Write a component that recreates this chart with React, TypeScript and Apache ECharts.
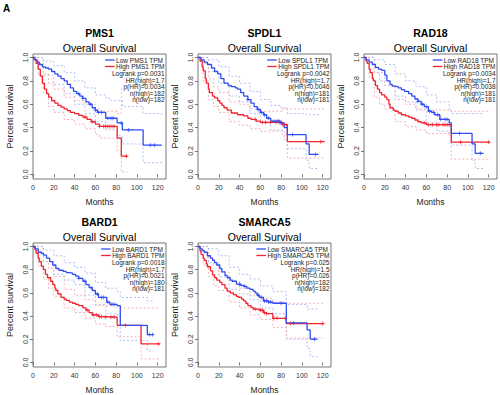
import React, { useEffect, useRef } from 'react';
import * as echarts from 'echarts';

type Pt = [number, number];

const GENES = ['PMS1', 'SPDL1', 'RAD18', 'BARD1', 'SMARCA5'];
const X_TICKS = [0, 20, 40, 60, 80, 100, 120];
const Y_TICKS = [0, 0.2, 0.4, 0.6, 0.8, 1.0];

// ---------- PMS1 ----------
const PMS1_LOW: Pt[] = [[0,1],[2,0.98],[4,0.96],[6,0.94],[9,0.92],[12,0.91],[15,0.9],[18,0.88],[21,0.86],[24,0.84],[27,0.82],[30,0.8],[33,0.77],[36,0.74],[39,0.71],[42,0.69],[45,0.67],[48,0.65],[51,0.62],[54,0.6],[57,0.57],[60,0.55],[62,0.53],[70,0.48],[81,0.44],[86,0.38],[106,0.25],[124,0.25]];
const PMS1_HIGH: Pt[] = [[0,1],[1,0.98],[3,0.95],[5,0.9],[7,0.84],[9,0.78],[11,0.73],[13,0.69],[15,0.66],[18,0.63],[21,0.61],[24,0.59],[27,0.575],[30,0.56],[33,0.545],[36,0.53],[40,0.52],[44,0.505],[48,0.49],[52,0.47],[56,0.45],[60,0.43],[64,0.41],[81,0.31],[85,0.155],[91,0.155]];
const PMS1_LOW_UP: Pt[] = [[0,1],[10,0.97],[20,0.93],[30,0.87],[40,0.8],[50,0.74],[60,0.68],[70,0.65],[75,0.63],[86,0.58],[106,0.52],[124,0.5]];
const PMS1_LOW_DN: Pt[] = [[0,1],[10,0.85],[20,0.77],[30,0.69],[40,0.6],[50,0.52],[60,0.45],[70,0.38],[81,0.33],[86,0.26],[106,0.1],[124,0.1]];
const PMS1_HIGH_UP: Pt[] = [[0,1],[5,0.95],[10,0.86],[15,0.78],[20,0.73],[30,0.66],[40,0.63],[50,0.6],[60,0.56],[64,0.54],[81,0.52],[85,0.73],[91,0.73]];
const PMS1_HIGH_DN: Pt[] = [[0,1],[5,0.85],[10,0.7],[15,0.58],[20,0.53],[30,0.47],[40,0.43],[50,0.39],[60,0.34],[64,0.31],[81,0.2],[85,0.02],[91,0.02]];
const PMS1_LOW_CENS = [44, 48, 55, 60, 63, 66, 72, 75, 77, 85, 92, 113, 117];
const PMS1_HIGH_CENS = [50, 57, 64, 68, 70, 72, 74, 76, 78, 90];
const PMS1_STATS = ['Logrank p=0.0031', 'HR(high)=1.7', 'p(HR)=0.0034', 'n(high)=182', 'n(low)=182'];

// ---------- SPDL1 ----------
const SPDL1_LOW: Pt[] = [[0,1],[3,0.98],[6,0.96],[9,0.94],[13,0.91],[16,0.88],[19,0.86],[22,0.82],[25,0.78],[29,0.76],[32,0.75],[36,0.74],[38,0.73],[41,0.7],[44,0.67],[48,0.64],[51,0.61],[54,0.58],[57,0.555],[60,0.53],[63,0.51],[66,0.48],[70,0.455],[79,0.44],[83,0.4],[86,0.34],[104,0.26],[107,0.17],[116,0.17]];
const SPDL1_HIGH: Pt[] = [[0,1],[2,0.97],[4,0.92],[5,0.885],[7,0.82],[8,0.78],[10,0.73],[11,0.7],[14,0.67],[16,0.655],[19,0.63],[21,0.61],[23,0.59],[25,0.57],[28,0.55],[32,0.525],[38,0.51],[44,0.5],[48,0.48],[51,0.47],[56,0.455],[60,0.445],[81,0.425],[86,0.28],[122,0.28]];
const SPDL1_LOW_UP: Pt[] = [[0,1],[10,0.98],[20,0.92],[30,0.84],[40,0.78],[50,0.71],[60,0.64],[70,0.59],[80,0.57],[86,0.52],[104,0.51],[116,0.51]];
const SPDL1_LOW_DN: Pt[] = [[0,1],[10,0.88],[20,0.78],[30,0.67],[40,0.62],[50,0.52],[60,0.44],[70,0.38],[83,0.3],[86,0.22],[104,0.12],[107,0.05],[116,0.05]];
const SPDL1_HIGH_UP: Pt[] = [[0,1],[5,0.95],[10,0.82],[15,0.75],[20,0.7],[30,0.62],[40,0.6],[50,0.56],[60,0.54],[81,0.56],[122,0.56]];
const SPDL1_HIGH_DN: Pt[] = [[0,1],[5,0.8],[10,0.64],[15,0.58],[20,0.53],[30,0.45],[40,0.42],[50,0.39],[60,0.37],[81,0.34],[86,0.14],[122,0.14]];
const SPDL1_LOW_CENS = [48, 58, 61, 64, 68, 73, 76, 78, 80, 91, 113];
const SPDL1_HIGH_CENS = [55, 62, 65, 70, 75, 78, 80, 82, 85, 118];
const SPDL1_STATS = ['Logrank p=0.0042', 'HR(high)=1.7', 'p(HR)=0.0046', 'n(high)=181', 'n(low)=181'];

// ---------- RAD18 ----------
const RAD18_LOW: Pt[] = [[0,1],[2,0.98],[5,0.96],[8,0.94],[11,0.915],[14,0.9],[17,0.89],[20,0.85],[22,0.8],[25,0.77],[27,0.755],[30,0.75],[33,0.74],[36,0.725],[39,0.71],[43,0.69],[46,0.67],[49,0.645],[52,0.625],[55,0.6],[58,0.58],[62,0.54],[65,0.53],[68,0.51],[73,0.47],[82,0.44],[84,0.35],[104,0.26],[107,0.18],[115,0.18]];
const RAD18_HIGH: Pt[] = [[0,1],[2,0.97],[3,0.95],[5,0.9],[6,0.87],[8,0.82],[9,0.8],[11,0.76],[13,0.73],[15,0.7],[17,0.68],[20,0.66],[22,0.64],[24,0.6],[25,0.57],[28,0.55],[30,0.54],[33,0.525],[36,0.51],[40,0.5],[43,0.49],[46,0.48],[49,0.465],[52,0.45],[55,0.44],[60,0.425],[84,0.275],[121,0.275]];
const RAD18_LOW_UP: Pt[] = [[0,1],[10,0.98],[20,0.94],[30,0.86],[40,0.8],[50,0.75],[60,0.68],[70,0.62],[82,0.56],[84,0.52],[115,0.52]];
const RAD18_LOW_DN: Pt[] = [[0,1],[10,0.87],[20,0.76],[30,0.67],[40,0.62],[50,0.55],[60,0.44],[70,0.37],[82,0.33],[84,0.25],[104,0.12],[107,0.05],[115,0.05]];
const RAD18_HIGH_UP: Pt[] = [[0,1],[5,0.96],[10,0.87],[15,0.8],[20,0.76],[30,0.64],[40,0.6],[50,0.56],[60,0.55],[84,0.54],[121,0.54]];
const RAD18_HIGH_DN: Pt[] = [[0,1],[5,0.83],[10,0.66],[15,0.6],[20,0.56],[30,0.45],[40,0.41],[50,0.38],[60,0.35],[84,0.13],[121,0.13]];
const RAD18_LOW_CENS = [52, 56, 60, 63, 67, 71, 74, 78, 80, 92, 112];
const RAD18_HIGH_CENS = [58, 62, 66, 70, 72, 76, 78, 80, 82, 93, 120];
const RAD18_STATS = ['Logrank p=0.0034', 'HR(high)=1.7', 'p(HR)=0.0038', 'n(high)=181', 'n(low)=181'];

// ---------- BARD1 ----------
const BARD1_LOW: Pt[] = [[0,1],[2,0.98],[5,0.95],[8,0.94],[10,0.925],[13,0.9],[16,0.87],[19,0.84],[22,0.81],[25,0.795],[29,0.785],[32,0.775],[35,0.77],[38,0.76],[41,0.745],[44,0.725],[48,0.7],[51,0.67],[54,0.645],[57,0.62],[60,0.59],[63,0.56],[71,0.52],[74,0.5],[81,0.49],[84,0.32],[110,0.24],[116,0.24]];
const BARD1_HIGH: Pt[] = [[0,1],[2,0.97],[3,0.94],[5,0.9],[6,0.87],[8,0.83],[10,0.8],[12,0.76],[14,0.73],[17,0.7],[19,0.67],[21,0.64],[22,0.62],[24,0.59],[27,0.56],[30,0.545],[32,0.535],[35,0.52],[38,0.51],[41,0.5],[44,0.49],[48,0.47],[51,0.45],[54,0.43],[57,0.41],[63,0.395],[70,0.39],[81,0.32],[104,0.16],[122,0.16]];
const BARD1_LOW_UP: Pt[] = [[0,1],[10,0.97],[20,0.92],[30,0.86],[40,0.82],[50,0.77],[60,0.69],[70,0.64],[81,0.61],[84,0.56],[110,0.53],[116,0.53]];
const BARD1_LOW_DN: Pt[] = [[0,1],[10,0.87],[20,0.76],[30,0.71],[40,0.67],[50,0.58],[60,0.5],[70,0.42],[81,0.41],[84,0.19],[110,0.1],[116,0.1]];
const BARD1_HIGH_UP: Pt[] = [[0,1],[5,0.96],[10,0.87],[15,0.81],[20,0.74],[30,0.63],[40,0.58],[50,0.54],[60,0.49],[81,0.47],[122,0.47]];
const BARD1_HIGH_DN: Pt[] = [[0,1],[5,0.83],[10,0.72],[15,0.64],[20,0.57],[30,0.47],[40,0.43],[50,0.38],[60,0.33],[70,0.31],[81,0.22],[104,0.03],[122,0.03]];
const BARD1_LOW_CENS = [44, 50, 56, 62, 66, 68, 72, 76, 78, 112, 115];
const BARD1_HIGH_CENS = [52, 58, 61, 64, 66, 70, 75, 78, 89, 121];
const BARD1_STATS = ['Logrank p=0.0018', 'HR(high)=1.7', 'p(HR)=0.0021', 'n(high)=180', 'n(low)=181'];

// ---------- SMARCA5 ----------
const SMARCA5_LOW: Pt[] = [[0,1],[2,0.98],[4,0.965],[6,0.95],[9,0.92],[12,0.9],[14,0.88],[16,0.86],[18,0.84],[21,0.81],[23,0.78],[26,0.75],[28,0.73],[31,0.71],[33,0.7],[37,0.675],[41,0.665],[44,0.655],[47,0.64],[50,0.63],[53,0.615],[55,0.6],[57,0.58],[59,0.56],[63,0.53],[68,0.52],[72,0.51],[85,0.34],[105,0.28],[108,0.2],[115,0.2]];
const SMARCA5_HIGH: Pt[] = [[0,1],[2,0.96],[3,0.93],[5,0.9],[6,0.88],[8,0.85],[9,0.825],[12,0.79],[14,0.755],[16,0.73],[18,0.71],[21,0.69],[23,0.67],[26,0.64],[28,0.615],[31,0.6],[34,0.585],[37,0.57],[39,0.56],[42,0.545],[44,0.53],[46,0.51],[48,0.49],[51,0.475],[53,0.46],[59,0.45],[63,0.43],[66,0.42],[72,0.38],[85,0.335],[121,0.335]];
const SMARCA5_LOW_UP: Pt[] = [[0,1],[10,0.98],[20,0.92],[30,0.82],[40,0.76],[50,0.72],[60,0.66],[72,0.61],[85,0.5],[105,0.46],[115,0.46]];
const SMARCA5_LOW_DN: Pt[] = [[0,1],[10,0.86],[20,0.74],[30,0.63],[40,0.59],[50,0.54],[60,0.47],[72,0.42],[85,0.2],[105,0.12],[108,0.05],[115,0.05]];
const SMARCA5_HIGH_UP: Pt[] = [[0,1],[5,0.95],[10,0.9],[15,0.84],[20,0.78],[30,0.7],[40,0.64],[50,0.58],[60,0.55],[72,0.52],[85,0.51],[121,0.51]];
const SMARCA5_HIGH_DN: Pt[] = [[0,1],[5,0.84],[10,0.74],[15,0.66],[20,0.62],[30,0.52],[40,0.47],[50,0.41],[60,0.37],[72,0.3],[85,0.21],[121,0.21]];
const SMARCA5_LOW_CENS = [40, 45, 58, 61, 64, 66, 68, 70, 80, 92, 112];
const SMARCA5_HIGH_CENS = [55, 60, 62, 64, 66, 73, 76, 84, 89, 120];
const SMARCA5_STATS = ['Logrank p=0.025', 'HR(high)=1.5', 'p(HR)=0.026', 'n(high)=182', 'n(low)=182'];

const BLUE = '#2f4df2';
const RED = '#f2222f';
const BLUE_CI = '#a9b6f6';
const RED_CI = '#f6a7b0';
const FONT = '"Liberation Sans", Arial, sans-serif';

function survAt(curve: Pt[], t: number): number {
  let s = 1;
  for (const [m, v] of curve) {
    if (m <= t) s = v;
    else break;
  }
  return s;
}

export default function App() {
  const ref = useRef<HTMLDivElement>(null);

  useEffect(() => {
    if (!ref.current) return;
    const chart = echarts.init(ref.current, null, { renderer: 'svg', width: 500, height: 395 });

    const panels = [
      { gene: GENES[0], low: PMS1_LOW, high: PMS1_HIGH, lu: PMS1_LOW_UP, ld: PMS1_LOW_DN, hu: PMS1_HIGH_UP, hd: PMS1_HIGH_DN, lc: PMS1_LOW_CENS, hc: PMS1_HIGH_CENS, stats: PMS1_STATS, ox: 0, oy: 0 },
      { gene: GENES[1], low: SPDL1_LOW, high: SPDL1_HIGH, lu: SPDL1_LOW_UP, ld: SPDL1_LOW_DN, hu: SPDL1_HIGH_UP, hd: SPDL1_HIGH_DN, lc: SPDL1_LOW_CENS, hc: SPDL1_HIGH_CENS, stats: SPDL1_STATS, ox: 165, oy: 0 },
      { gene: GENES[2], low: RAD18_LOW, high: RAD18_HIGH, lu: RAD18_LOW_UP, ld: RAD18_LOW_DN, hu: RAD18_HIGH_UP, hd: RAD18_HIGH_DN, lc: RAD18_LOW_CENS, hc: RAD18_HIGH_CENS, stats: RAD18_STATS, ox: 331, oy: 0 },
      { gene: GENES[3], low: BARD1_LOW, high: BARD1_HIGH, lu: BARD1_LOW_UP, ld: BARD1_LOW_DN, hu: BARD1_HIGH_UP, hd: BARD1_HIGH_DN, lc: BARD1_LOW_CENS, hc: BARD1_HIGH_CENS, stats: BARD1_STATS, ox: 0, oy: 189 },
      { gene: GENES[4], low: SMARCA5_LOW, high: SMARCA5_HIGH, lu: SMARCA5_LOW_UP, ld: SMARCA5_LOW_DN, hu: SMARCA5_HIGH_UP, hd: SMARCA5_HIGH_DN, lc: SMARCA5_LOW_CENS, hc: SMARCA5_HIGH_CENS, stats: SMARCA5_STATS, ox: 165, oy: 189 },
    ];

    const canvas = document.createElement('canvas');
    const ctx = canvas.getContext('2d')!;
    ctx.font = `6.5px ${FONT}`;

    const grids: any[] = [];
    const xAxes: any[] = [];
    const yAxes: any[] = [];
    const series: any[] = [];
    const graphics: any[] = [
      { type: 'text', left: 3, top: 3, style: { text: 'A', font: `bold 10px ${FONT}`, fill: '#000' } },
    ];

    const BOX_L = 33, BOX_T = 54, BOX_W = 133, BOX_H = 125;

    panels.forEach((p, i) => {
      const left = BOX_L + p.ox;
      const top = BOX_T + p.oy;
      const right = left + BOX_W;
      const cx = left + BOX_W / 2;
      grids.push({ left, top, width: BOX_W, height: BOX_H, show: true, borderColor: '#555', borderWidth: 0.8, backgroundColor: 'transparent' });
      xAxes.push({
        gridIndex: i, type: 'value', min: 0, max: 128,
        axisLine: { show: false },
        axisTick: { show: true, length: 3, customValues: X_TICKS, lineStyle: { color: '#555', width: 0.8 } },
        axisLabel: { customValues: X_TICKS, fontSize: 7, color: '#333', margin: 5, fontFamily: FONT },
        splitLine: { show: false },
        name: 'Months', nameLocation: 'middle', nameGap: 18,
        nameTextStyle: { fontSize: 8.5, color: '#222', fontFamily: FONT },
      });
      yAxes.push({
        gridIndex: i, type: 'value', min: -0.04, max: 1.03,
        axisLine: { show: false },
        axisTick: { show: true, length: 3, customValues: Y_TICKS, lineStyle: { color: '#555', width: 0.8 } },
        axisLabel: { customValues: Y_TICKS, rotate: 90, fontSize: 7, color: '#333', margin: 4, fontFamily: FONT, formatter: (v: number) => v.toFixed(1) },
        splitLine: { show: false },
        name: 'Percent survival', nameLocation: 'middle', nameGap: 19,
        nameTextStyle: { fontSize: 9, color: '#222', fontFamily: FONT },
      });

      const ci = (data: Pt[], color: string) => ({
        type: 'line', xAxisIndex: i, yAxisIndex: i, data, step: 'end', symbol: 'none', silent: true,
        lineStyle: { color, width: 0.9, type: [2, 2] }, z: 1,
      });
      series.push(ci(p.lu, BLUE_CI), ci(p.ld, BLUE_CI), ci(p.hu, RED_CI), ci(p.hd, RED_CI));
      const main = (data: Pt[], color: string, z: number) => ({
        type: 'line', xAxisIndex: i, yAxisIndex: i, data, step: 'end', symbol: 'none', silent: true,
        lineStyle: { color, width: 1.3 }, z,
      });
      series.push(main(p.high, RED, 2), main(p.low, BLUE, 3));
      const cens = (curve: Pt[], times: number[], color: string, z: number) => ({
        type: 'scatter', xAxisIndex: i, yAxisIndex: i, silent: true,
        data: times.map((t) => [t, survAt(curve, t)]),
        symbol: 'path://M5 0V10M0 5H10', symbolSize: 4,
        itemStyle: { color: 'transparent', borderColor: color, borderWidth: 0.9 }, z,
      });
      series.push(cens(p.high, p.hc, RED, 4), cens(p.low, p.lc, BLUE, 5));

      // titles
      graphics.push({ type: 'text', x: cx, y: 33 + p.oy, style: { text: p.gene, font: `bold 10.5px ${FONT}`, fill: '#000', textAlign: 'center', textVerticalAlign: 'middle' } });
      graphics.push({ type: 'text', x: cx, y: 47.5 + p.oy, style: { text: 'Overall Survival', font: `10.5px ${FONT}`, fill: '#000', textAlign: 'center', textVerticalAlign: 'middle' } });

      // legend
      const lowTxt = `Low ${p.gene} TPM`;
      const highTxt = `High ${p.gene} TPM`;
      const tw = Math.max(ctx.measureText(lowTxt).width, ctx.measureText(highTxt).width);
      const tx = right - 1.5 - tw;
      const ly1 = top + 6, ly2 = top + 12.5;
      graphics.push({ type: 'line', shape: { x1: tx - 11, y1: ly1, x2: tx - 1.5, y2: ly1 }, style: { stroke: BLUE, lineWidth: 1.3 } });
      graphics.push({ type: 'line', shape: { x1: tx - 11, y1: ly2, x2: tx - 1.5, y2: ly2 }, style: { stroke: RED, lineWidth: 1.3 } });
      graphics.push({ type: 'text', x: tx, y: ly1, style: { text: lowTxt, font: `6.5px ${FONT}`, fill: '#222', textAlign: 'left', textVerticalAlign: 'middle' } });
      graphics.push({ type: 'text', x: tx, y: ly2, style: { text: highTxt, font: `6.5px ${FONT}`, fill: '#222', textAlign: 'left', textVerticalAlign: 'middle' } });
      p.stats.forEach((s, k) => {
        graphics.push({ type: 'text', x: right - 1.5, y: top + 19.5 + k * 6.6, style: { text: s, font: `6.5px ${FONT}`, fill: '#222', textAlign: 'right', textVerticalAlign: 'middle' } });
      });
    });

    chart.setOption({
      animation: false,
      backgroundColor: '#fff',
      grid: grids,
      xAxis: xAxes,
      yAxis: yAxes,
      series,
      graphic: graphics,
    });

    return () => chart.dispose();
  }, []);

  return <div ref={ref} style={{ position: 'fixed', left: 0, top: 0, width: 500, height: 395, background: '#fff' }} />;
}
